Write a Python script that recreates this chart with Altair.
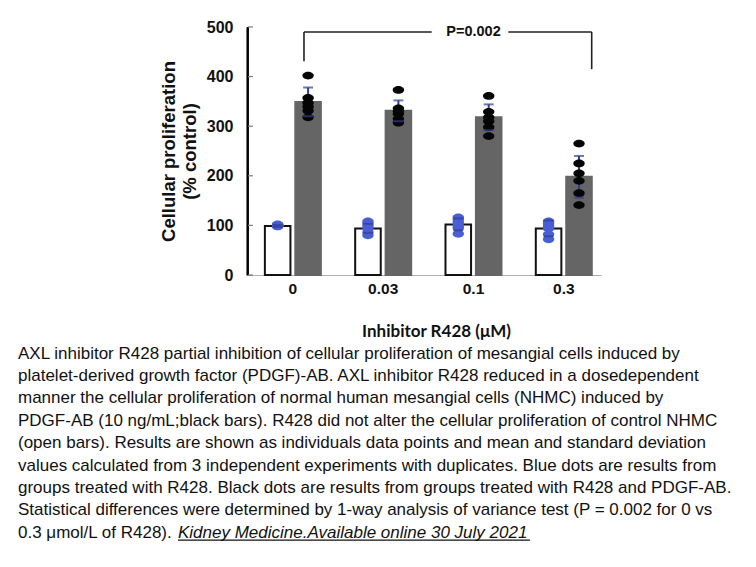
import altair as alt
import pandas as pd

# ---------------- data ----------------
doses = ["0", "0.03", "0.1", "0.3"]
groups = ["R428", "R428 + PDGF-AB"]

open_mean = [99, 94, 102, 94]
open_sd = [2, 9, 12, 16]
pdgf_mean = [349, 331, 318, 198]
pdgf_sd = [29, 21, 26, 42]

blue_0 = [98, 99, 100, 100, 101, 102]
blue_003 = [108, 103, 98, 93, 86, 80]
blue_01 = [116, 112, 106, 100, 95, 83]
blue_03 = [108, 104, 99, 94, 82, 72]

black_0 = [402, 357, 347, 339, 331, 318]
black_003 = [373, 336, 330, 325, 315, 307]
black_01 = [361, 329, 318, 310, 298, 280]
black_03 = [265, 225, 205, 190, 165, 141]

y_ticks = [0, 100, 200, 300, 400, 500]

p_label = "P=0.002"
bracket_top = 490
bracket_left_end = 431
bracket_right_end = 415

caption_lines = [
    "AXL inhibitor R428 partial inhibition of cellular proliferation of mesangial cells induced by",
    "platelet-derived growth factor (PDGF)-AB. AXL inhibitor R428 reduced in a dosedependent",
    "manner the cellular proliferation of normal human mesangial cells (NHMC) induced by",
    "PDGF-AB (10 ng/mL;black bars). R428 did not alter the cellular proliferation of control NHMC",
    "(open bars). Results are shown as individuals data points and mean and standard deviation",
    "values calculated from 3 independent experiments with duplicates. Blue dots are results from",
    "groups treated with R428. Black dots are results from groups treated with R428 and PDGF-AB.",
    "Statistical differences were determined by 1-way analysis of variance test (P = 0.002 for 0 vs",
]
caption_tail = "0.3 \u03bcmol/L of R428). "
caption_link = "Kidney Medicine.Available online 30 July 2021"

# ---------------- tables ----------------
bars = pd.DataFrame(
    [{"dose": d, "group": groups[0], "mean": m, "lo": m - s, "hi": m + s}
     for d, m, s in zip(doses, open_mean, open_sd)]
    + [{"dose": d, "group": groups[1], "mean": m, "lo": m - s, "hi": m + s}
       for d, m, s in zip(doses, pdgf_mean, pdgf_sd)]
)

dot_rows = []
for d, vals in zip(doses, [blue_0, blue_003, blue_01, blue_03]):
    for v in vals:
        dot_rows.append({"dose": d, "group": groups[0], "value": v})
for d, vals in zip(doses, [black_0, black_003, black_01, black_03]):
    for v in vals:
        dot_rows.append({"dose": d, "group": groups[1], "value": v})
dots = pd.DataFrame(dot_rows)

# annotation x scale in "group units" (group centres at 0,1,2,3)
AX_MIN, AX_MAX = -0.508, 3.412
bracket = pd.DataFrame([
    {"bx": 0.123, "bx2": 1.537, "by": bracket_top, "by2": bracket_top},
    {"bx": 2.386, "bx2": 3.309, "by": bracket_top, "by2": bracket_top},
    {"bx": 0.123, "bx2": 0.123, "by": bracket_top, "by2": bracket_left_end},
    {"bx": 3.309, "bx2": 3.309, "by": bracket_top, "by2": bracket_right_end},
])
axis_line = pd.DataFrame([
    {"bx": AX_MIN + 0.01, "bx2": AX_MIN + 0.01, "by": y_ticks[0], "by2": y_ticks[-1]},
])
ticks_df = pd.DataFrame({"bx": [AX_MIN + 0.01] * len(y_ticks),
                         "bx2": [AX_MIN + 0.065] * len(y_ticks),
                         "by": y_ticks})
ptext = pd.DataFrame([{"bx": 2.0, "by": bracket_top, "t": p_label}])

# ---------------- encodings ----------------
NAVY = "#2f3d92"
BLUE = "#4a5ed4"
GRAY = "#656565"
ellipse = "M -1 0 A 1 0.68 0 1 1 1 0 A 1 0.68 0 1 1 -1 0 Z"

xenc = alt.X(
    "dose:N", sort=doses,
    scale=alt.Scale(paddingInner=0.38, paddingOuter=0.15, align=0.66),
    axis=alt.Axis(
        title="Inhibitor R428 (\u03bcM)", labelAngle=0, ticks=False,
        domainColor="#b0b0b0", domainWidth=1.2,
        labelFont="Liberation Sans", labelFontWeight="bold", labelFontSize=15.5,
        labelColor="#111111", labelPadding=6,
        titleFont="Lato", titleFontWeight="bold", titleFontSize=17,
        titleColor="#111111", titlePadding=27, titleX=189,
    ),
)
xnoax = alt.X("dose:N", sort=doses,
              scale=alt.Scale(paddingInner=0.38, paddingOuter=0.15, align=0.66),
              axis=None)
xo = alt.XOffset("group:N", sort=groups, scale=alt.Scale(paddingInner=0.16, paddingOuter=0))
yscale = alt.Scale(domain=[0, 500], nice=False, zero=True)
YT = ["Cellular proliferation", "(% control)"]
yaxis = alt.Axis(
    title=YT, values=y_ticks,
    grid=False, domain=True, domainColor="#000000", domainWidth=2, domainOpacity=1,
    ticks=False,
    labelFont="Liberation Sans", labelFontWeight="bold", labelFontSize=16,
    labelColor="#111111", labelPadding=14,
    titleFont="Liberation Sans", titleFontWeight="bold", titleFontSize=18.5,
    titleColor="#111111", titleLineHeight=21, titlePadding=7,
)

color_bar = alt.Color("group:N", scale=alt.Scale(domain=groups, range=["white", GRAY]), legend=None)
stroke_bar = alt.Stroke("group:N", scale=alt.Scale(domain=groups, range=["#111111", GRAY]), legend=None)
color_dot = alt.Color("group:N", scale=alt.Scale(domain=groups, range=[BLUE, "#050505"]), legend=None)

bar_layer = alt.Chart(bars).mark_bar(strokeWidth=2).encode(
    x=xenc, xOffset=xo,
    y=alt.Y("mean:Q", scale=yscale, axis=yaxis, title=YT),
    fill=color_bar, stroke=stroke_bar,
)

err_layer = alt.Chart(bars).mark_rule(color=NAVY, strokeWidth=2).encode(
    x=xnoax, xOffset=xo,
    y=alt.Y("lo:Q", scale=yscale, axis=yaxis, title=YT), y2="hi:Q",
)

dot_layer = alt.Chart(dots).mark_point(filled=True, shape=ellipse, size=130, opacity=1).encode(
    x=xnoax, xOffset=xo,
    y=alt.Y("value:Q", scale=yscale, axis=yaxis, title=YT),
    color=color_dot,
)

cap_hi = alt.Chart(bars).mark_tick(color=NAVY, thickness=2, size=10).encode(
    x=xnoax, xOffset=xo, y=alt.Y("hi:Q", scale=yscale, axis=yaxis, title=YT))
cap_lo = alt.Chart(bars).mark_tick(color=NAVY, thickness=2, size=10).encode(
    x=xnoax, xOffset=xo, y=alt.Y("lo:Q", scale=yscale, axis=yaxis, title=YT))

bx_scale = alt.Scale(domain=[AX_MIN, AX_MAX], nice=False, zero=False)
bracket_layer = alt.Chart(bracket).mark_rule(color="#222222", strokeWidth=1.6).encode(
    x=alt.X("bx:Q", scale=bx_scale, axis=None), x2="bx2:Q",
    y=alt.Y("by:Q", scale=yscale, axis=yaxis, title=YT), y2="by2:Q",
)
axis_line_layer = alt.Chart(axis_line).mark_rule(color="#000000", strokeWidth=2).encode(
    x=alt.X("bx:Q", scale=bx_scale, axis=None), x2="bx2:Q",
    y=alt.Y("by:Q", scale=yscale, axis=yaxis, title=YT), y2="by2:Q",
)
tick_layer = alt.Chart(ticks_df).mark_rule(color="#777777", strokeWidth=1.2).encode(
    x=alt.X("bx:Q", scale=bx_scale, axis=None), x2="bx2:Q",
    y=alt.Y("by:Q", scale=yscale, axis=yaxis, title=YT),
)
ptext_layer = alt.Chart(ptext).mark_text(
    font="Liberation Sans", fontWeight="bold", fontSize=14.5, color="#111111",
    align="center", baseline="middle",
).encode(
    x=alt.X("bx:Q", scale=bx_scale, axis=None),
    y=alt.Y("by:Q", scale=yscale, axis=yaxis, title=YT),
    text="t:N",
)

one = pd.DataFrame({"k": [0]})
CAP_X = -229
CAP_Y = 331.5
LH = 22.4
cap_font = dict(font="Liberation Sans", fontSize=17.0, color="#111111",
                align="left", baseline="alphabetic")
caption_layer = alt.Chart(one).mark_text(text=caption_lines, lineHeight=LH, **cap_font).encode(
    x=alt.value(CAP_X), y=alt.value(CAP_Y))
tail_layer = alt.Chart(one).mark_text(text=caption_tail, **cap_font).encode(
    x=alt.value(CAP_X), y=alt.value(CAP_Y + 8 * LH))
link_x = CAP_X + 160
link_layer = alt.Chart(one).mark_text(text=caption_link, fontStyle="italic", **cap_font).encode(
    x=alt.value(link_x), y=alt.value(CAP_Y + 8 * LH))
underline_layer = alt.Chart(one).mark_rule(color="#111111", strokeWidth=1.2).encode(
    x=alt.value(link_x), x2=alt.value(link_x + 352),
    y=alt.value(CAP_Y + 8 * LH + 2.5))

chart = alt.layer(
    bar_layer, err_layer, dot_layer, cap_hi, cap_lo,
    axis_line_layer, tick_layer, bracket_layer, ptext_layer,
    caption_layer, tail_layer, link_layer, underline_layer,
).resolve_scale(x="independent").properties(
    width=354, height=248,
    padding={"left": 10, "top": 11, "right": 5, "bottom": 5},
    background="white",
).configure_view(stroke=None)

chart.save("out.html", embed_options={"renderer": "svg", "actions": False})
